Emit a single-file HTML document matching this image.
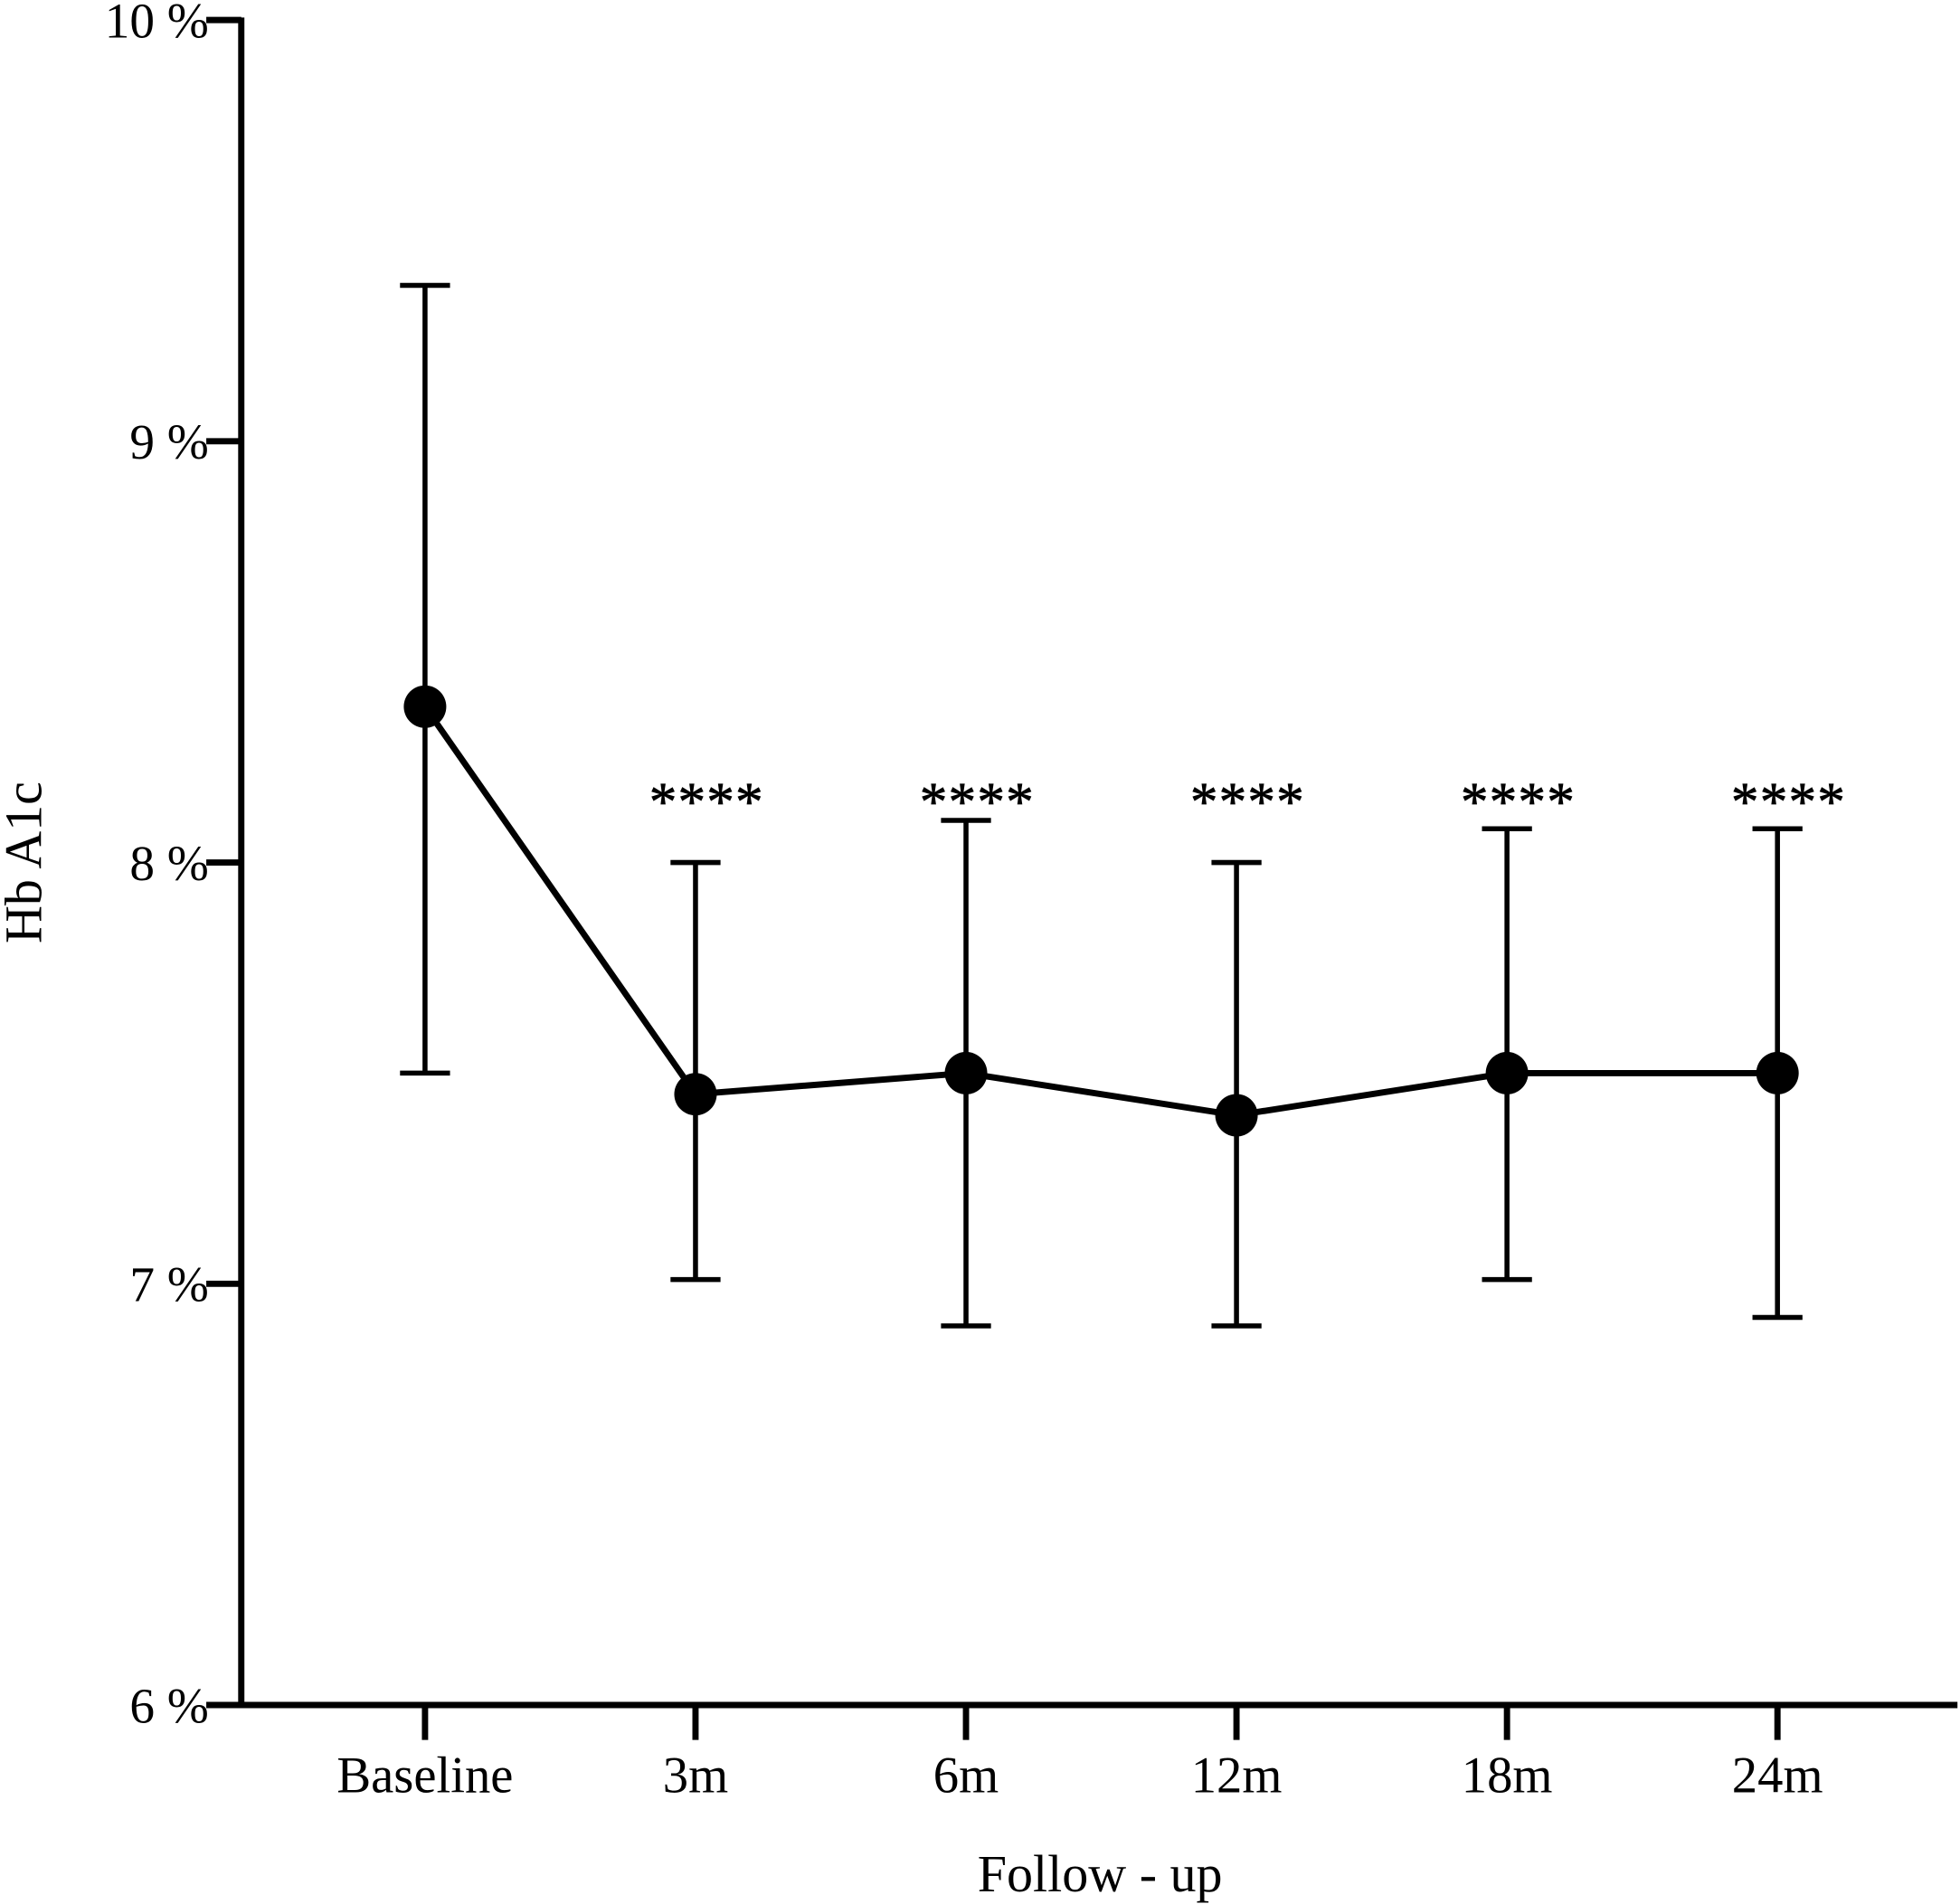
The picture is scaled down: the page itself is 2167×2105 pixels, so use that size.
<!DOCTYPE html>
<html><head><meta charset="utf-8"><style>
html,body{margin:0;padding:0;background:#fff;}
svg{display:block;font-family:"Liberation Serif",serif;}
</style></head><body>
<svg id="chart" width="2167" height="2105" viewBox="0 0 1568 1523.2" xmlns="http://www.w3.org/2000/svg">
<g id="g"></g>
</svg>
<script>
const categories = ["Baseline","3m","6m","12m","18m","24m"];
const means = [8.37,7.45,7.50,7.40,7.50,7.50];
const upper = [9.37,8.00,8.10,8.00,8.08,8.08];
const lower = [7.50,7.01,6.90,6.90,7.01,6.92];
const signif = ["","****","****","****","****","****"];
const yTicks = [6,7,8,9,10];
const yTickLabels = ["6 %","7 %","8 %","9 %","10 %"];

const NS="http://www.w3.org/2000/svg";
const g=document.getElementById('g');
const x0=193, x1=1566, yTop=16, yBot=1364;
function yScale(v){return yBot-(v-6)/(10-6)*(yBot-yTop);}
function xScale(i){return 340+i*216.4;}
function mk(tag,attrs,parent){const e=document.createElementNS(NS,tag);for(const k in attrs)e.setAttribute(k,attrs[k]);(parent||g).appendChild(e);return e;}

let e;
e=mk('line',{x1:x0,y1:yTop-2,x2:x0,y2:yBot+2,stroke:'#000','stroke-width':5});


e=mk('line',{x1:x0-2,y1:yBot,x2:x1,y2:yBot,stroke:'#000','stroke-width':5});



yTicks.forEach((v,i)=>{
  const y=yScale(v);
  e=mk('line',{x1:x0-28,y1:y,x2:x0,y2:y,stroke:'#000','stroke-width':5});
  
  
  e=mk('text',{x:x0-26,y:y+14,'text-anchor':'end','font-size':40});
  e.textContent=yTickLabels[i];
  
  
});

categories.forEach((c,i)=>{
  const x=xScale(i);
  e=mk('line',{x1:x,y1:yBot,x2:x,y2:yBot+28,stroke:'#000','stroke-width':5});
  
  
  e=mk('text',{x:x,y:1434,'text-anchor':'middle','font-size':41});
  e.textContent=c;
  
  
});

categories.forEach((c,i)=>{
  const x=xScale(i);
  e=mk('path',{d:`M${x-20},${yScale(upper[i])}H${x+20}M${x},${yScale(upper[i])}V${yScale(lower[i])}M${x-20},${yScale(lower[i])}H${x+20}`,stroke:'#000','stroke-width':4,fill:'none'});
  
  
});

e=mk('polyline',{points:means.map((v,i)=>xScale(i)+','+yScale(v)).join(' '),stroke:'#000','stroke-width':5,fill:'none'});



means.forEach((v,i)=>{
  e=mk('circle',{cx:xScale(i),cy:yScale(v),r:17,fill:'#000'});
  
  
  if(signif[i]){
    e=mk('text',{x:xScale(i)+9,y:656,'text-anchor':'middle','font-size':44,'letter-spacing':1,stroke:'#000','stroke-width':0.6});
    e.textContent=signif[i];
    
    
  }
});

e=mk('text',{x:880,y:1513,'text-anchor':'middle','font-size':42});
e.textContent='Follow - up';


e=mk('text',{x:0,y:0,'text-anchor':'middle','font-size':42,transform:'translate(33,690) rotate(-90)'});
e.textContent='Hb A1c';


</script>
</body></html>
